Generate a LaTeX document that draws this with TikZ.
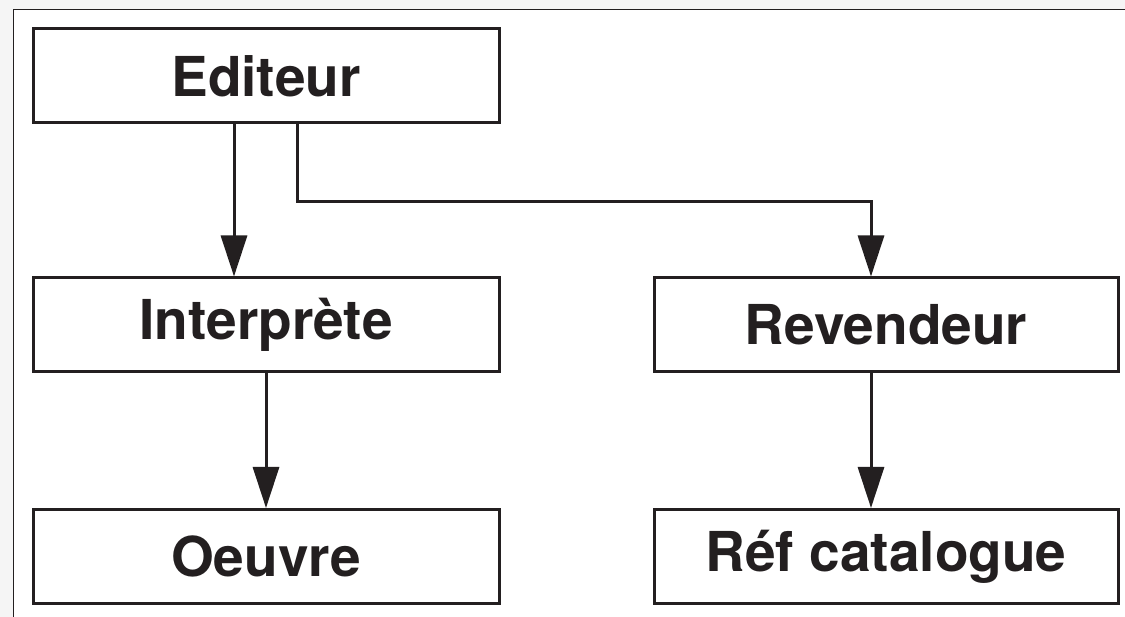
\documentclass[tikz,border=0pt]{standalone}
\usepackage{fontspec}
\setmainfont{TeX Gyre Heros}
\usetikzlibrary{arrows.meta}
\definecolor{ink}{HTML}{231F20}
\definecolor{paper}{HTML}{F5F5F5}
\begin{document}
\begin{tikzpicture}[x=1pt,y=1pt,
    entity/.style={draw=ink,line width=3pt,fill=white,text=ink,
        minimum width=466pt,minimum height=94pt,inner sep=0pt,
        font=\fontsize{55}{60}\selectfont\bfseries},
    link/.style={draw=ink,line width=3pt,
        -{Triangle[length=41pt,width=26pt]}}]
    % Page background and frame
    \useasboundingbox (0,0) rectangle (1125,617);
    \fill[paper] (0,0) rectangle (1125,617);
    \fill[white] (13.5,0) rectangle (1125,607.5);
    \draw[ink,line width=1.5pt] (13.5,0) -- (13.5,607.5) -- (1125,607.5);

    % Entities
    \node[entity] (ed) at (266,541) {Editeur};
    \node[entity] (in) at (266,292) {Interprète};
    \node[entity] (oe) at (266,60.5) {Oeuvre};
    \node[entity,minimum width=464pt] (rv) at (886,292) {Revendeur};
    \node[entity,minimum width=464pt] (rf) at (886,60.5) {Réf catalogue};

    % Links
    \draw[link] ([xshift=-32pt]ed.south) -- ([xshift=-32pt]ed.south |- in.north);
    \draw[link] ([xshift=31pt]ed.south) -- ++(0,-77) -| ([xshift=-15pt]rv.north);
    \draw[link] (in.south) -- (oe.north);
    \draw[link] ([xshift=-15pt]rv.south) -- ([xshift=-15pt]rv.south |- rf.north);
\end{tikzpicture}
\end{document}
